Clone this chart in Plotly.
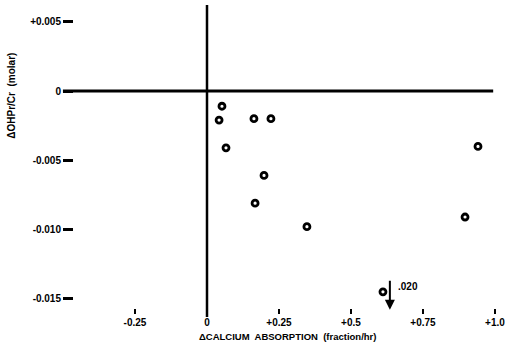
import plotly.graph_objects as go

# Data
calcium_abs = [0.052, 0.042, 0.163, 0.222, 0.066, 0.198, 0.167, 0.347, 0.941, 0.896, 0.611]
ohpr_cr = [-0.0011, -0.0021, -0.0020, -0.0020, -0.0041, -0.0061, -0.0081, -0.0098, -0.0040, -0.0091, -0.0145]

x_tickvals = [-0.25, 0, 0.25, 0.5, 0.75, 1.0]
x_ticktext = ["-0.25", "0", "+0.25", "+0.5", "+0.75", "+1.0"]
y_tickvals = [0.005, 0, -0.005, -0.010, -0.015]
y_ticktext = ["+0.005", "0", "-0.005", "-0.010", "-0.015"]

offscale_label = ".020"
offscale_x = 0.635

FONT = dict(family="Liberation Sans", size=10, color="black", weight="bold")

fig = go.Figure()
fig.add_trace(go.Scatter(
    x=calcium_abs, y=ohpr_cr, mode="markers",
    marker=dict(symbol="circle", size=6, color="white",
                line=dict(color="black", width=2.8)),
    showlegend=False, cliponaxis=False,
))

# axis cross
fig.add_shape(type="line", xref="paper", yref="y", x0=-0.026, x1=0.984, y0=0, y1=0,
              line=dict(color="black", width=3), layer="below")
fig.add_shape(type="line", xref="x", yref="paper", x0=0, x1=0, y0=-0.03, y1=1.0,
              line=dict(color="black", width=2.5), layer="below")

# off-scale arrow
fig.add_annotation(x=offscale_x, y=-0.0158, ax=offscale_x, ay=-0.0136,
                   xref="x", yref="y", axref="x", ayref="y", text="",
                   showarrow=True, arrowhead=2, arrowsize=1, arrowwidth=2, arrowcolor="black")
fig.add_annotation(x=offscale_x + 0.022, y=-0.0141, xref="x", yref="y",
                   text=offscale_label, showarrow=False, xanchor="left", yanchor="middle",
                   font=dict(family="Liberation Sans", size=10, color="black", weight="bold"))

# axis titles
fig.add_annotation(xref="paper", yref="paper", x=0.5, y=-0.093, yanchor="middle",
                   text="ΔCALCIUM  ABSORPTION  (fraction/hr)", showarrow=False,
                   font=dict(family="Liberation Sans", size=9.5, color="black", weight="bold"))
fig.add_annotation(xref="paper", yref="paper", x=-0.146, y=0.70, textangle=-90,
                   xanchor="center", yanchor="middle",
                   text="ΔOHPr/Cr  (molar)", showarrow=False,
                   font=dict(family="Liberation Sans", size=10, color="black", weight="bold"))

fig.update_layout(
    width=505, height=345,
    margin=dict(l=74, r=5, t=5, b=37),
    paper_bgcolor="white", plot_bgcolor="white",
    font=FONT,
    xaxis=dict(range=[-0.4618, 1.0174], tickvals=x_tickvals, ticktext=x_ticktext,
               showgrid=False, zeroline=False, showline=False, automargin=False,
               ticks="outside", ticklen=5, tickwidth=2, tickcolor="black",
               ticklabeloverflow="allow", tickfont=FONT),
    yaxis=dict(range=[-0.01567, 0.00621], tickvals=y_tickvals, ticktext=y_ticktext,
               showgrid=False, zeroline=False, showline=False, automargin=False,
               ticks="outside", ticklen=10, tickwidth=2.5, tickcolor="black",
               ticklabeloverflow="allow", tickfont=FONT),
)

fig.write_html("out.html", config={"displayModeBar": False},
               post_script="document.body.style.margin='0';document.body.style.overflow='hidden';")
